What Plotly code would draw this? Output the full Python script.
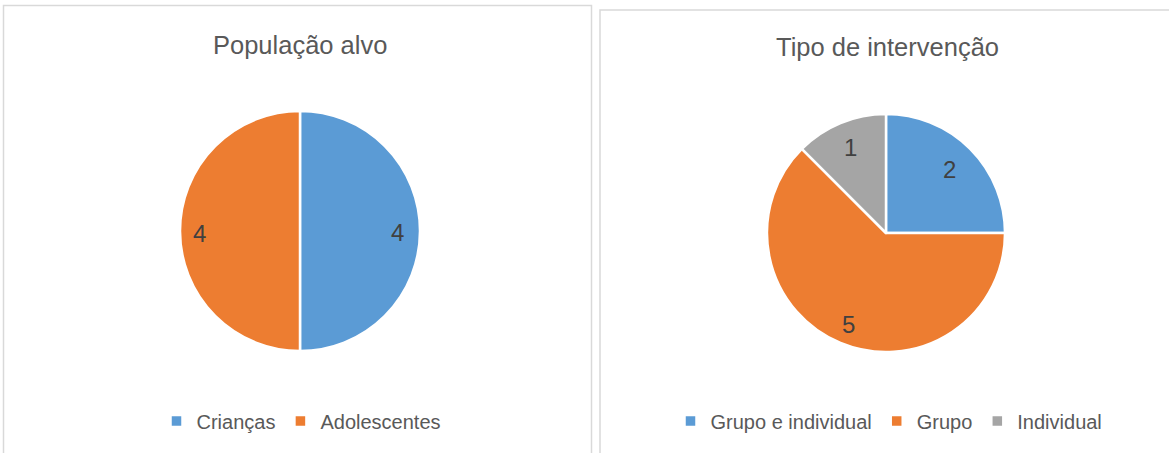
import math
import plotly.graph_objects as go

W, H = 1169, 453

# Data
pop_labels = ["Crianças", "Adolescentes"]
pop_values = [4, 4]
tipo_labels = ["Grupo e individual", "Grupo", "Individual"]
tipo_values = [2, 5, 1]

titles = ["População alvo", "Tipo de intervenção"]
colors_pop = ["#5B9BD5", "#ED7D31"]
colors_tipo = ["#5B9BD5", "#ED7D31", "#A5A5A5"]
# radial placement of the data labels (fraction of radius), style only
label_r_pop = [0.81, 0.84]
label_r_tipo = [0.76, 0.83, 0.78]

FONT = "Liberation Sans, Arial, sans-serif"


def px_x(x):
    return x / W


def px_y(y):
    return 1 - y / H


dom_pop = dict(x=[px_x(180), px_x(420)], y=[px_y(351), px_y(111)])
dom_tipo = dict(x=[px_x(767), px_x(1005)], y=[px_y(352), px_y(114)])

fig = go.Figure()

fig.add_trace(go.Pie(
    labels=pop_labels, values=pop_values, sort=False, direction="clockwise",
    rotation=0,
    marker=dict(colors=colors_pop, line=dict(color="white", width=2.5)),
    textinfo="none",
    domain=dom_pop,
    legend="legend", hoverinfo="label+value",
))

fig.add_trace(go.Pie(
    labels=tipo_labels, values=tipo_values, sort=False, direction="clockwise",
    rotation=0,
    marker=dict(colors=colors_tipo, line=dict(color="white", width=2.5)),
    textinfo="none",
    domain=dom_tipo,
    legend="legend2", hoverinfo="label+value",
))


def value_labels(values, dom, fracs, dy=0):
    # centre and radius of the pie in pixels, from its domain
    x0, x1 = dom["x"][0] * W, dom["x"][1] * W
    y0, y1 = (1 - dom["y"][1]) * H, (1 - dom["y"][0]) * H
    cx, cy = (x0 + x1) / 2, (y0 + y1) / 2
    R = min(x1 - x0, y1 - y0) / 2
    total = sum(values)
    cum = 0
    out = []
    for v, f in zip(values, fracs):
        mid = (cum + v / 2) / total * 2 * math.pi
        cum += v
        px = cx + math.sin(mid) * f * R
        py = cy - math.cos(mid) * f * R + dy
        out.append(dict(text=str(v), x=px_x(px), y=px_y(py), xref="paper", yref="paper",
                        showarrow=False, xanchor="center", yanchor="middle",
                        font=dict(family=FONT, size=24, color="#404040")))
    return out


shapes = [
    dict(type="rect", xref="paper", yref="paper",
         x0=px_x(3.5), x1=px_x(591.5), y0=px_y(470), y1=px_y(5.5),
         line=dict(color="#D9D9D9", width=1.5), fillcolor="rgba(0,0,0,0)"),
    dict(type="rect", xref="paper", yref="paper",
         x0=px_x(600), x1=px_x(1190), y0=px_y(470), y1=px_y(10),
         line=dict(color="#D9D9D9", width=1.5), fillcolor="rgba(0,0,0,0)"),
]

annotations = [
    dict(text=titles[0], x=px_x(300), y=px_y(45), xref="paper", yref="paper",
         showarrow=False, xanchor="center", yanchor="middle",
         font=dict(family=FONT, size=25.5, color="#595959")),
    dict(text=titles[1], x=px_x(887), y=px_y(47), xref="paper", yref="paper",
         showarrow=False, xanchor="center", yanchor="middle",
         font=dict(family=FONT, size=25.5, color="#595959")),
]
annotations += value_labels(pop_values, dom_pop, label_r_pop, dy=2)
annotations += value_labels(tipo_values, dom_tipo, label_r_tipo)

legend_font = dict(family=FONT, size=20, color="#595959")
fig.update_layout(
    width=W, height=H,
    margin=dict(l=0, r=0, t=0, b=0),
    paper_bgcolor="white", plot_bgcolor="white",
    shapes=shapes, annotations=annotations,
    legend=dict(orientation="h", x=px_x(301), y=px_y(421), xanchor="center",
                yanchor="middle", font=legend_font, bgcolor="rgba(0,0,0,0)",
                itemclick=False, itemdoubleclick=False, itemwidth=30),
    legend2=dict(orientation="h", x=px_x(889), y=px_y(421), xanchor="center",
                 yanchor="middle", font=legend_font, bgcolor="rgba(0,0,0,0)",
                 itemclick=False, itemdoubleclick=False, itemwidth=30),
    showlegend=True,
)

fig.write_html("out.html")
